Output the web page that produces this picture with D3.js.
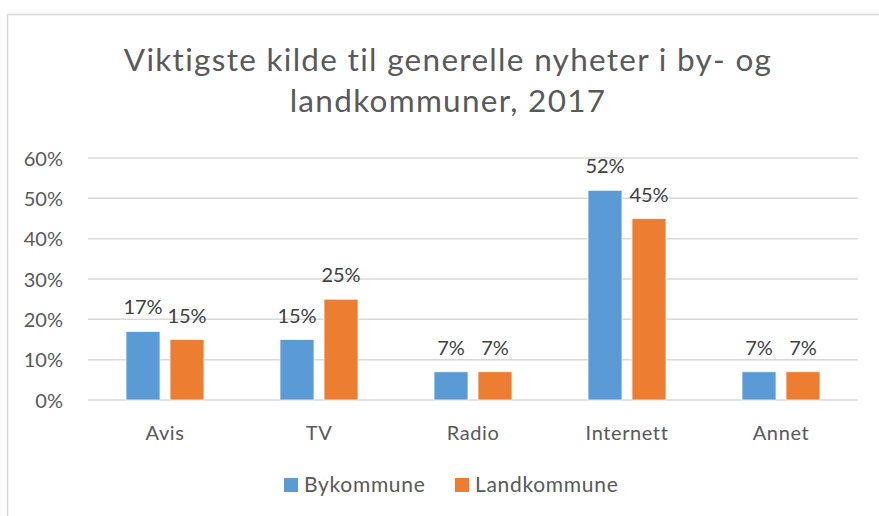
<!DOCTYPE html>
<html>
<head>
<meta charset="utf-8">
<script src="https://cdn.jsdelivr.net/npm/d3@7"></script>
<style>
  body { margin: 0; background: #fff; }
  svg { display: block; font-family: Lato, "Open Sans", sans-serif; }
</style>
</head>
<body>
<div class="chart"></div>
<script>
// data
var categories = ["Avis", "TV", "Radio", "Internett", "Annet"];
var series = ["Bykommune", "Landkommune"];
var bykommune = [0.17, 0.15, 0.07, 0.52, 0.07];
var landkommune = [0.15, 0.25, 0.07, 0.45, 0.07];
var yTicks = [0, 0.1, 0.2, 0.3, 0.4, 0.5, 0.6];
var colors = ["#5B9BD5", "#ED7D31"];
var titleLines = ["Viktigste kilde til generelle nyheter i by- og", "landkommuner, 2017"];

var width = 879, height = 516;
var plot = { left: 88, right: 858, top: 158, bottom: 400 };

var svg = d3.select(".chart")
  .append("svg")
  .attr("width", width)
  .attr("height", height);

// outer chart border (only left and top are visible in the frame)
svg.append("rect")
  .attr("x", 7.5).attr("y", 14.5)
  .attr("width", width + 20).attr("height", height + 20)
  .attr("fill", "none")
  .attr("stroke", "#D9D9D9")
  .attr("stroke-width", 1.5);

// title
svg.append("text")
  .attr("text-anchor", "middle")
  .attr("fill", "#595959")
  .attr("font-size", "31.5px")
  .attr("letter-spacing", "1.3px")
  .selectAll("tspan")
  .data(titleLines)
  .enter().append("tspan")
  .attr("x", 448)
  .attr("y", function(d, i) { return 71 + i * 41; })
  .text(function(d) { return d; });

var x0 = d3.scaleBand().domain(categories).range([plot.left, plot.right]);
var x1 = d3.scaleBand().domain(series).range([0, 78]).paddingInner(10 / 44);
var y = d3.scaleLinear().domain([0, 0.6]).range([plot.bottom, plot.top]);

// gridlines
svg.append("g")
  .selectAll("line")
  .data(yTicks)
  .enter().append("line")
  .attr("x1", plot.left).attr("x2", plot.right)
  .attr("y1", function(d) { return y(d); })
  .attr("y2", function(d) { return y(d); })
  .attr("stroke", "#D9D9D9")
  .attr("stroke-width", 1.5);

// y axis labels
var yAxis = svg.append("g")
  .attr("transform", "translate(" + (plot.left - 22) + ",0)")
  .call(d3.axisLeft(y).tickValues(yTicks).tickFormat(d3.format(".0%")).tickSize(0));
yAxis.select(".domain").remove();
yAxis.selectAll("text")
  .attr("fill", "#595959")
  .attr("font-size", "20px")
  .attr("font-family", "Lato, sans-serif")
  .attr("dy", "0.35em");

// x axis labels
var xAxis = svg.append("g")
  .attr("transform", "translate(0," + plot.bottom + ")")
  .call(d3.axisBottom(x0).tickSize(0));
xAxis.select(".domain").remove();
xAxis.selectAll("text")
  .attr("fill", "#595959")
  .attr("font-size", "20px")
  .attr("font-family", "Lato, sans-serif")
  .attr("letter-spacing", "0.6px")
  .attr("y", 40)
  .attr("dy", 0);

var rows = categories.map(function(c, i) {
  return { cat: c, values: [bykommune[i], landkommune[i]] };
});

var groups = svg.append("g")
  .selectAll("g")
  .data(rows)
  .enter().append("g")
  .attr("transform", function(d) {
    return "translate(" + (x0(d.cat) + x0.bandwidth() / 2 - 39) + ",0)";
  });

var cells = groups.selectAll("g")
  .data(function(d) { return d.values.map(function(v, j) { return { s: series[j], v: v, j: j }; }); })
  .enter().append("g");

cells.append("rect")
  .attr("x", function(d) { return x1(d.s); })
  .attr("width", x1.bandwidth())
  .attr("y", function(d) { return y(d.v); })
  .attr("height", function(d) { return y(0) - y(d.v); })
  .attr("fill", function(d) { return colors[d.j]; })
  .attr("stroke", "#fff")
  .attr("stroke-width", 0.75);

cells.append("text")
  .attr("x", function(d) { return x1(d.s) + x1.bandwidth() / 2; })
  .attr("y", function(d) { return y(d.v) - 17; })
  .attr("text-anchor", "middle")
  .attr("fill", "#404040")
  .attr("font-size", "20px")
  .text(function(d) { return d3.format(".0%")(d.v); });

// legend
var legend = svg.append("g")
  .selectAll("g")
  .data(series)
  .enter().append("g")
  .attr("transform", function(d, i) { return "translate(" + [284, 455][i] + ",478)"; });

legend.append("rect")
  .attr("width", 14).attr("height", 14)
  .attr("fill", function(d, i) { return colors[i]; });

legend.append("text")
  .attr("x", 20).attr("y", 14)
  .attr("fill", "#595959")
  .attr("font-size", "21px")
  .attr("letter-spacing", "0.7px")
  .text(function(d) { return d; });
</script>
</body>
</html>
